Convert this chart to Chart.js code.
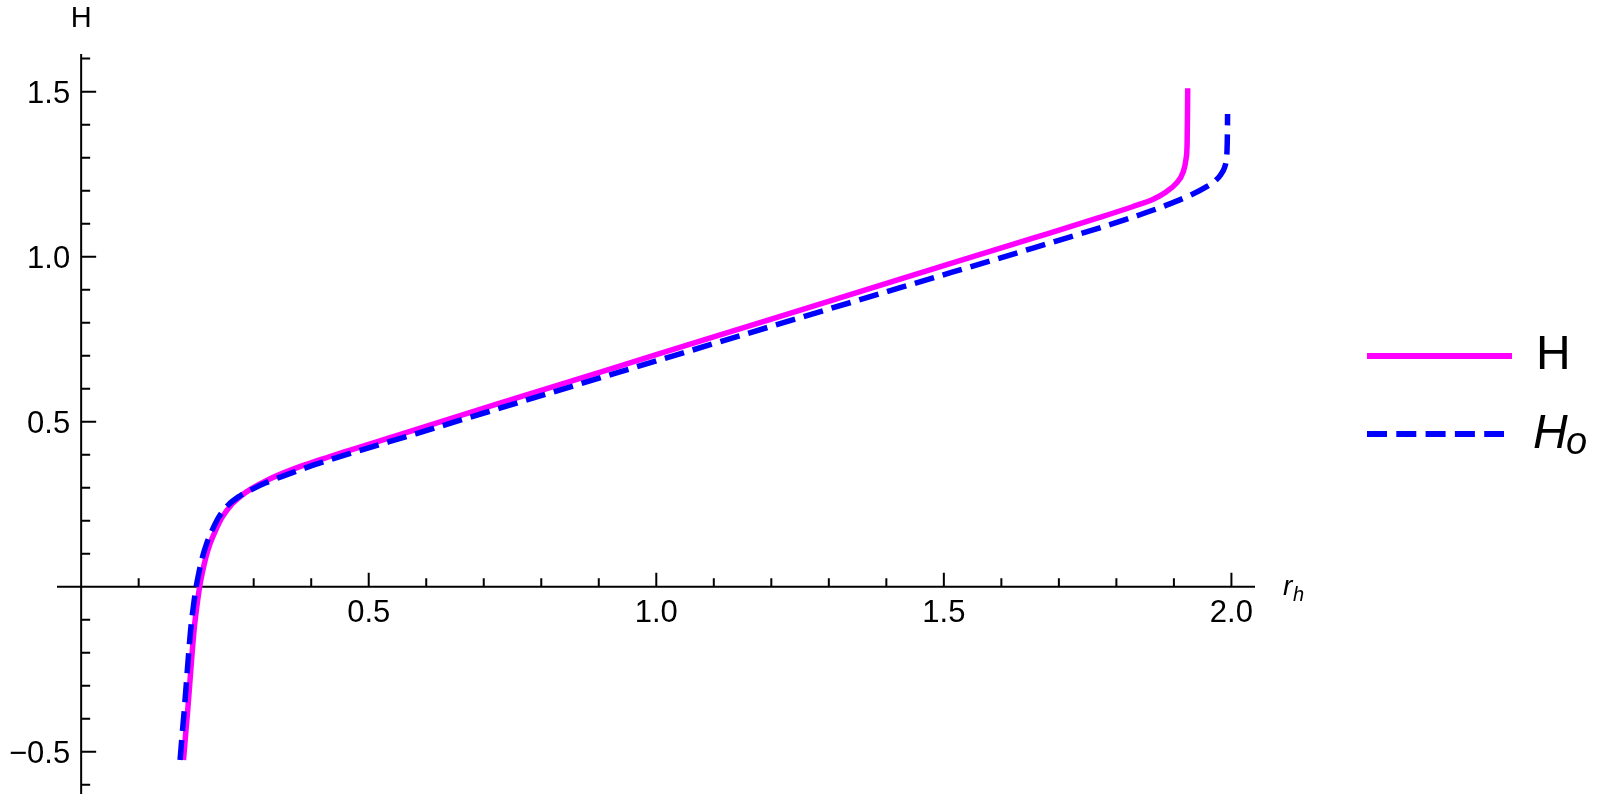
<!DOCTYPE html>
<html>
<head>
<meta charset="utf-8">
<script src="https://cdn.jsdelivr.net/npm/chart.js@4.4.1/dist/chart.umd.min.js"></script>
<style>
  html, body { margin: 0; padding: 0; background: #fff; }
  #wrap { width: 1597px; height: 799px; position: relative; }
</style>
</head>
<body>
<div id="wrap"><canvas id="myChart"></canvas></div>
<script>
// H curve (solid magenta)
const hX = [0.178, 0.1815, 0.185, 0.189, 0.193, 0.197, 0.2015, 0.206, 0.211, 0.217,
            0.224, 0.233, 0.245, 0.262, 0.280, 0.297, 0.320, 0.352, 0.390, 0.430,
            0.468, 0.583, 0.728, 1.0, 1.2, 1.424, 1.655, 1.771, 1.829, 1.864,
            1.887, 1.904, 1.916, 1.921, 1.923, 1.9236, 1.924];
const hY = [-0.525, -0.45, -0.38, -0.29, -0.20, -0.12, -0.055, 0.0, 0.045, 0.090,
            0.130, 0.168, 0.210, 0.250, 0.278, 0.298, 0.320, 0.345, 0.370, 0.393,
            0.414, 0.477, 0.556, 0.703, 0.811, 0.932, 1.056, 1.119, 1.152, 1.174,
            1.197, 1.222, 1.256, 1.295, 1.345, 1.43, 1.510];

// H_o curve (dashed blue)
const hoX = [0.172, 0.1755, 0.179, 0.183, 0.187, 0.191, 0.1955, 0.200, 0.205, 0.211,
             0.218, 0.227, 0.239, 0.256, 0.276, 0.297, 0.320, 0.352, 0.390, 0.430,
             0.468, 0.583, 0.728, 1.0, 1.2, 1.424, 1.655, 1.794, 1.841, 1.887,
             1.933, 1.957, 1.972, 1.982, 1.988, 1.991, 1.9923, 1.993, 1.9933];
const hoY = [-0.525, -0.45, -0.38, -0.29, -0.20, -0.12, -0.055, 0.0, 0.045, 0.090,
             0.130, 0.168, 0.210, 0.248, 0.275, 0.295, 0.314, 0.336, 0.360, 0.383,
             0.404, 0.464, 0.541, 0.684, 0.789, 0.906, 1.026, 1.100, 1.127, 1.156,
             1.190, 1.212, 1.230, 1.250, 1.270, 1.292, 1.320, 1.37, 1.432];

// ticks
const xMajorTicks = [0.5, 1.0, 1.5, 2.0];
const xTickLabels = ['0.5', '1.0', '1.5', '2.0'];
const xMinorTicks = [0.1, 0.2, 0.3, 0.4, 0.6, 0.7, 0.8, 0.9, 1.1, 1.2, 1.3, 1.4, 1.6, 1.7, 1.8, 1.9];
const yMajorTicks = [-0.5, 0.5, 1.0, 1.5];
const yTickLabels = ['\u22120.5', '0.5', '1.0', '1.5'];
const yMinorTicks = [-0.6, -0.4, -0.3, -0.2, -0.1, 0.1, 0.2, 0.3, 0.4, 0.6, 0.7, 0.8, 0.9,
                     1.1, 1.2, 1.3, 1.4, 1.6];

const toPts = (xs, ys) => xs.map((x, i) => ({x: x, y: ys[i]}));

const FONT = '"Liberation Sans", Arial, sans-serif';

const axesPlugin = {
    id: 'mmaAxes',
    beforeDatasetsDraw(chart) {
        const ctx = chart.ctx;
        const xs = chart.scales.x, ys = chart.scales.y;
        const area = chart.chartArea;
        const x0 = xs.getPixelForValue(0);
        const y0 = ys.getPixelForValue(0);
        ctx.save();
        ctx.strokeStyle = '#000';
        ctx.lineWidth = 2;
        ctx.beginPath();
        ctx.moveTo(area.left, y0); ctx.lineTo(area.right, y0);
        ctx.moveTo(x0, area.top); ctx.lineTo(x0, area.bottom);
        xMajorTicks.forEach(v => { const p = xs.getPixelForValue(v); ctx.moveTo(p, y0); ctx.lineTo(p, y0 - 14); });
        xMinorTicks.forEach(v => { const p = xs.getPixelForValue(v); ctx.moveTo(p, y0); ctx.lineTo(p, y0 - 8.5); });
        yMajorTicks.forEach(v => { const p = ys.getPixelForValue(v); ctx.moveTo(x0, p); ctx.lineTo(x0 + 15, p); });
        yMinorTicks.forEach(v => { const p = ys.getPixelForValue(v); ctx.moveTo(x0, p); ctx.lineTo(x0 + 9, p); });
        ctx.stroke();

        ctx.fillStyle = '#000';
        ctx.font = '31px ' + FONT;
        ctx.textBaseline = 'alphabetic';
        ctx.textAlign = 'center';
        xMajorTicks.forEach((v, i) => ctx.fillText(xTickLabels[i], xs.getPixelForValue(v), y0 + 35));
        ctx.textAlign = 'right';
        yMajorTicks.forEach((v, i) => ctx.fillText(yTickLabels[i], x0 - 11, ys.getPixelForValue(v) + 11));

        // axis labels
        ctx.textAlign = 'center';
        ctx.font = '29px ' + FONT;
        ctx.fillText('H', x0, 27);
        ctx.textAlign = 'left';
        ctx.font = 'italic 28px ' + FONT;
        ctx.fillText('r', area.right + 28, y0 + 8);
        ctx.font = 'italic 20px ' + FONT;
        ctx.fillText('h', area.right + 38, y0 + 14);
        ctx.restore();
    },
    afterDraw(chart) {
        const ctx = chart.ctx;
        ctx.save();
        ctx.lineCap = 'butt';
        ctx.lineWidth = 6;
        ctx.strokeStyle = '#FF00FF';
        ctx.beginPath(); ctx.moveTo(1367, 356); ctx.lineTo(1512, 356); ctx.stroke();
        ctx.strokeStyle = '#0000FF';
        ctx.setLineDash([20, 9.3]);
        ctx.beginPath(); ctx.moveTo(1367, 434); ctx.lineTo(1504, 434); ctx.stroke();
        ctx.setLineDash([]);
        ctx.fillStyle = '#000';
        ctx.textAlign = 'left';
        ctx.textBaseline = 'alphabetic';
        ctx.font = '48px ' + FONT;
        ctx.fillText('H', 1536, 369);
        ctx.font = 'italic 48px ' + FONT;
        ctx.fillText('H', 1533, 448);
        ctx.font = 'italic 38px ' + FONT;
        ctx.fillText('o', 1566, 454);
        ctx.restore();
    }
};

const config = {
    type: 'scatter',
    data: {
        datasets: [{
            label: 'H_o',
            data: toPts(hoX, hoY),
            showLine: true,
            borderColor: '#0000FF',
            borderWidth: 5.5,
            borderDash: [20, 9],
            borderCapStyle: 'butt',
            pointRadius: 0,
            cubicInterpolationMode: 'monotone',
            order: 0
        }, {
            label: 'H',
            data: toPts(hX, hY),
            showLine: true,
            borderColor: '#FF00FF',
            borderWidth: 5.5,
            pointRadius: 0,
            cubicInterpolationMode: 'monotone',
            order: 1
        }]
    },
    options: {
        responsive: true,
        maintainAspectRatio: false,
        animation: false,
        layout: {
            padding: { left: 57, right: 342, top: 54, bottom: 5 }
        },
        scales: {
            x: { type: 'linear', min: -0.042, max: 2.041, display: false },
            y: { type: 'linear', min: -0.628, max: 1.614, display: false }
        },
        plugins: {
            legend: { display: false },
            tooltip: { enabled: false }
        }
    },
    plugins: [axesPlugin]
};

const graphe = new Chart(document.getElementById('myChart'), config);
</script>
</body>
</html>
